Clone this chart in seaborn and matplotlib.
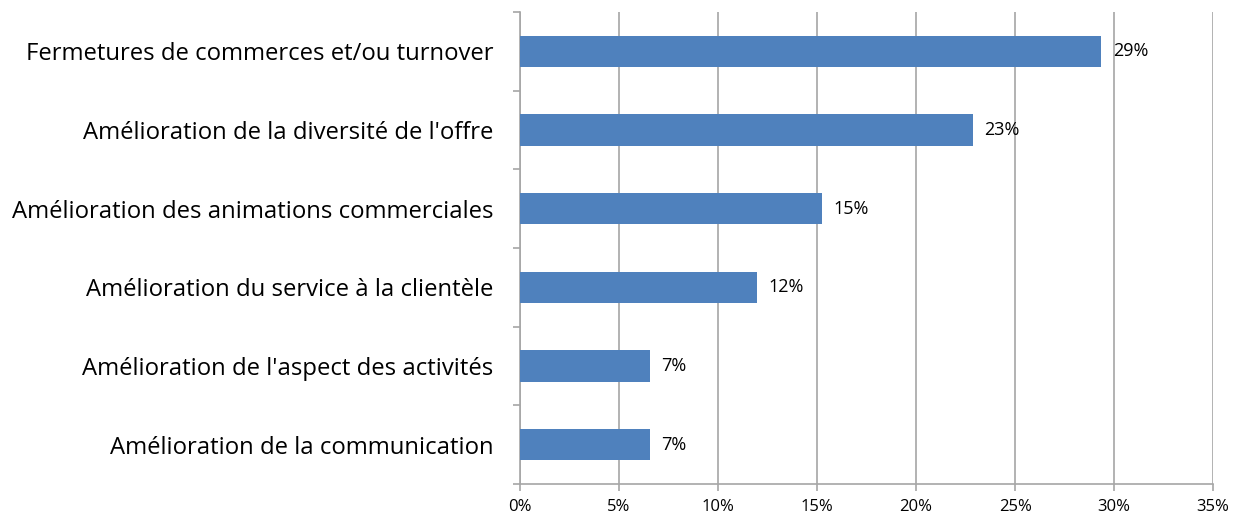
import pandas as pd
import matplotlib.pyplot as plt
import seaborn as sns
from matplotlib.ticker import PercentFormatter, FixedLocator

# --- donnees ---
CATEGORIES = [
    "Fermetures de commerces et/ou turnover",
    "Amélioration de la diversité de l'offre",
    "Amélioration des animations commerciales",
    "Amélioration du service à la clientèle",
    "Amélioration de l'aspect des activités",
    "Amélioration de la communication",
]
VALEURS = [29.35, 22.85, 15.25, 11.95, 6.55, 6.55]
ETIQUETTES = ["29%", "23%", "15%", "12%", "7%", "7%"]

BLEU = "#4F81BD"
GRIS = "#A6A6A6"

sns.set_theme(style="white")
plt.rcParams["font.family"] = ["Open Sans", "DejaVu Sans"]

df = pd.DataFrame({"Categorie": CATEGORIES, "Valeur": VALEURS})

fig = plt.figure(figsize=(12.33, 5.17), dpi=100)
ax = fig.add_axes([0.4217, 0.0638, 0.5622, 0.913])

sns.barplot(data=df, x="Valeur", y="Categorie", orient="h", color=BLEU,
            width=0.4, saturation=1, linewidth=0, ax=ax, zorder=3)

ax.set_xlim(0, 35)
ax.set_ylim(len(CATEGORIES) - 0.5, -0.5)
ax.set_xticks(range(0, 36, 5))
ax.xaxis.set_major_formatter(PercentFormatter(decimals=0))
ax.grid(axis="x", color=GRIS, linewidth=1.2, zorder=0)
ax.set_xlabel("")
ax.set_ylabel("")

# ticks du y entre les categories
ax.set_yticks(range(len(CATEGORIES)))
ax.set_yticklabels(CATEGORIES, fontsize=17.2, color="black")
ax.yaxis.set_minor_locator(FixedLocator([i - 0.5 for i in range(len(CATEGORIES) + 1)]))
ax.tick_params(axis="y", which="major", length=0, pad=19)
ax.tick_params(axis="y", which="minor", length=5, color=GRIS, width=1.2, left=True)
ax.tick_params(axis="x", length=5, color=GRIS, width=1.2, bottom=True,
               labelsize=12, labelcolor="black", pad=6)

for s in ["top", "right"]:
    ax.spines[s].set_visible(False)
for s in ["left", "bottom"]:
    ax.spines[s].set_color(GRIS)
    ax.spines[s].set_linewidth(1.2)

for i, (v, lab) in enumerate(zip(VALEURS, ETIQUETTES)):
    ax.text(v + 0.6, i, lab, va="center", ha="left", fontsize=13, color="black", zorder=4)

fig.savefig("out.png", dpi=100)
